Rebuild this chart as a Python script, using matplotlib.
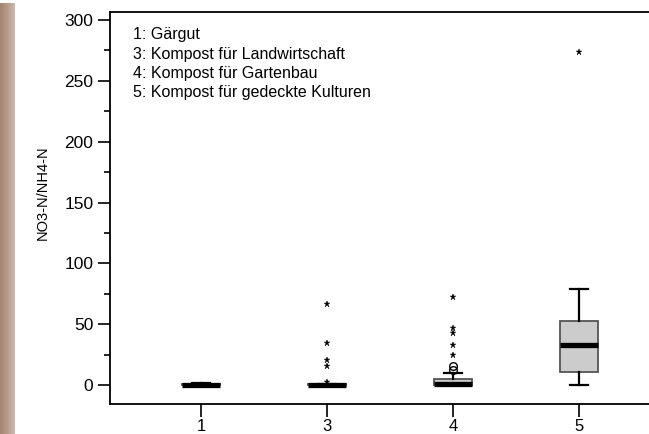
import numpy as np
import matplotlib.pyplot as plt
from matplotlib.colors import LinearSegmentedColormap

plt.rcParams['font.family'] = ['Liberation Sans', 'DejaVu Sans']

# box statistics per group
groups = ['1', '3', '4', '5']
q1 = [0.0, 0.0, 0.0, 10.7]
med = [0.2, 0.2, 0.8, 32.9]
q3 = [0.5, 0.6, 5.0, 52.6]
whislo = [0.0, 0.0, 0.0, 0.0]
whishi = [1.5, 1.0, 10.0, 79.0]
# mild outliers (circles) and extreme outliers (stars)
mild = [[], [], [12.3, 15.6], []]
extreme = [[], [2.5, 15.6, 20.5, 34.5, 67.0], [24.7, 33.0, 43.0, 47.0, 72.0], [273.5]]

legend_lines = ['1: Gärgut',
                '3: Kompost für Landwirtschaft',
                '4: Kompost für Gartenbau',
                '5: Kompost für gedeckte Kulturen']

W, H = 649, 434
fig = plt.figure(figsize=(W / 100, H / 100), dpi=100)

# brown strip on the left edge
strip = fig.add_axes([0, 0, 15 / W, 1 - 3 / H])
cmap = LinearSegmentedColormap.from_list('strip', ['#a4846f', '#b69b8a', '#cbbcb0'])
strip.imshow(np.linspace(0, 1, 64)[None, :], aspect='auto', cmap=cmap)
strip.axis('off')

ax = fig.add_axes([110 / W, 30 / H, 550 / W, 392 / H])

stats = []
for i in range(len(groups)):
    stats.append(dict(q1=q1[i], med=med[i], q3=q3[i],
                      whislo=whislo[i], whishi=whishi[i], fliers=[]))
pos = np.arange(1, len(groups) + 1)
ax.bxp(stats, positions=pos, widths=0.3, patch_artist=True, showfliers=False,
       boxprops=dict(facecolor='#cccccc', edgecolor='#555555', linewidth=1.3),
       medianprops=dict(color='black', linewidth=3.8, solid_capstyle='butt'),
       whiskerprops=dict(color='black', linewidth=1.6),
       capprops=dict(color='black', linewidth=1.6), capwidths=0.15)

for p, m, e in zip(pos, mild, extreme):
    if m:
        ax.plot([p] * len(m), m, 'o', mfc='none', mec='black', ms=5.5, mew=1.0)
    if e:
        ax.plot([p] * len(e), e, '*', color='black', ms=5, mew=0.3)

ax.set_xlim(0.278, 4.643)
ax.set_ylim(-15.6, 306.6)
ax.set_xticks(pos)
ax.set_xticklabels(groups)
ax.set_yticks(np.arange(0, 301, 50))
ax.set_yticks(np.arange(25, 300, 50), minor=True)
ax.tick_params(axis='y', which='major', direction='out', length=9,
               width=1.2, labelsize=12.5, pad=3)
ax.tick_params(axis='x', which='major', direction='out', length=9,
               width=1.2, labelsize=12, pad=1.5)
ax.tick_params(axis='y', which='minor', direction='out', length=4, width=1.2)
for s in ['left', 'bottom', 'top']:
    ax.spines[s].set_linewidth(1.3)
ax.spines['right'].set_visible(False)

fig.text(43 / W, 1 - 193 / H, 'NO3-N/NH4-N', rotation=90, fontsize=10.5,
         ha='center', va='center')
for k, line in enumerate(legend_lines):
    fig.text(133 / W, 1 - (35 + 19.3 * k) / H, line, fontsize=11.5,
             ha='left', va='center')

fig.savefig('out.png', dpi=100)
